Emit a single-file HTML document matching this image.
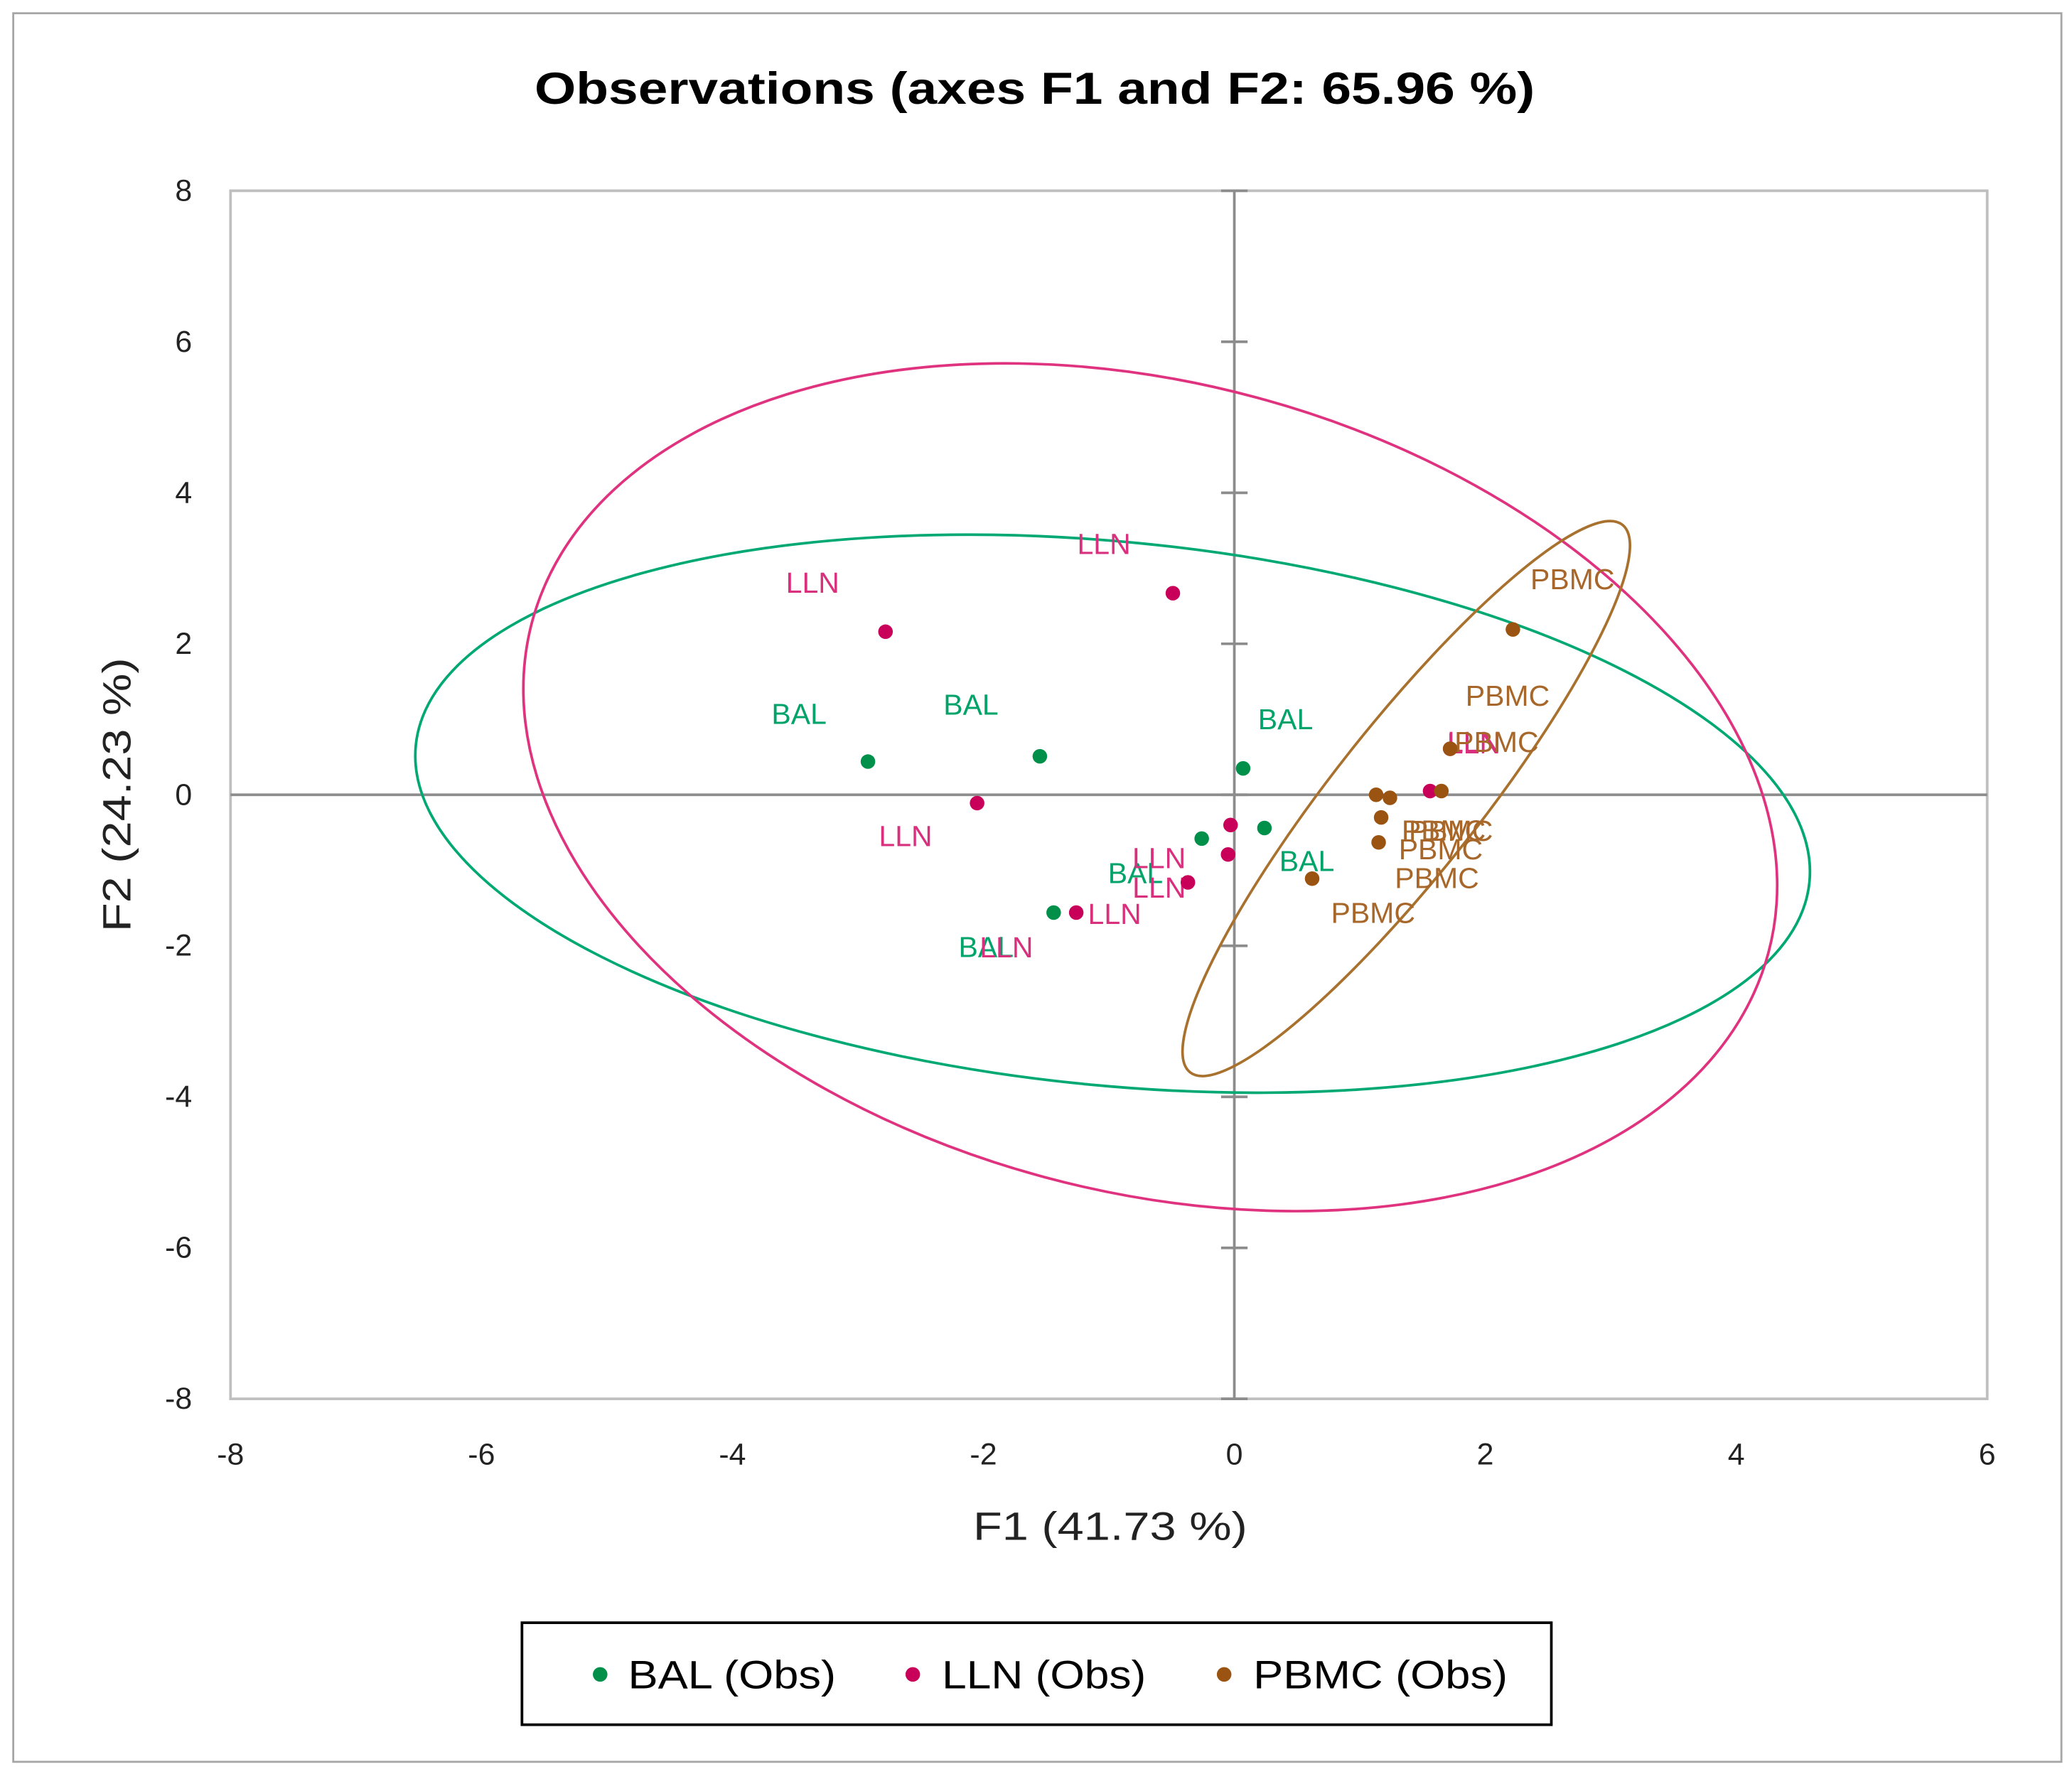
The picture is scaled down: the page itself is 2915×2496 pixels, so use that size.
<!DOCTYPE html>
<html><head><meta charset="utf-8"><style>
html,body{margin:0;padding:0;background:#fff;}
svg{display:block;font-family:"Liberation Sans",Arial,sans-serif;}
</style></head><body>
<svg id="chart" width="2915" height="2496" viewBox="0 0 1564 1339.2" xmlns="http://www.w3.org/2000/svg">
<rect x="10" y="10" width="1546" height="1320" fill="#fff" stroke="#a6a6a6" stroke-width="1.5"/>
<text x="781" y="67" text-anchor="middle" dominant-baseline="central" font-size="34" font-weight="bold" textLength="755" lengthAdjust="spacingAndGlyphs">Observations (axes F1 and F2: 65.96 %)</text>
<rect x="174" y="144" width="1326" height="912" fill="none" stroke="#bfbfbf" stroke-width="2"/>
<g id="axes"></g>
<g id="ellipses"></g>
<g id="marks"></g>
<text x="838" y="1152" text-anchor="middle" dominant-baseline="central" font-size="30" fill="#222" textLength="207" lengthAdjust="spacingAndGlyphs">F1 (41.73 %)</text>
<text transform="translate(88,600) rotate(-90)" text-anchor="middle" dominant-baseline="central" font-size="30" fill="#222" textLength="207" lengthAdjust="spacingAndGlyphs">F2 (24.23 %)</text>
<g>
<rect x="394" y="1225" width="777" height="77" fill="#fff" stroke="#000" stroke-width="2"/>
<g><circle cx="453" cy="1264" r="5.5" fill="#00904a"/><text x="474" y="1264" dominant-baseline="central" font-size="30" textLength="157" lengthAdjust="spacingAndGlyphs">BAL (Obs)</text></g>
<g><circle cx="689" cy="1264" r="5.5" fill="#c8005a"/><text x="711" y="1264" dominant-baseline="central" font-size="30" textLength="154" lengthAdjust="spacingAndGlyphs">LLN (Obs)</text></g>
<g><circle cx="924" cy="1264" r="5.5" fill="#9a5310"/><text x="946" y="1264" dominant-baseline="central" font-size="30" textLength="192" lengthAdjust="spacingAndGlyphs">PBMC (Obs)</text></g>
</g>
</svg>
<script>
const xTicks = [-8,-6,-4,-2,0,2,4,6];
const yTicks = [-8,-6,-4,-2,0,2,4,6,8];
const balX = [-2.92,-1.55,0.07,0.24,-0.26,-1.44];
const balY = [0.44,0.51,0.35,-0.44,-0.58,-1.56];
const llnX = [-2.78,-0.49,-2.05,-0.03,-0.05,-0.37,-1.26,1.56,1.72];
const llnY = [2.16,2.67,-0.11,-0.40,-0.79,-1.16,-1.56,0.05,0.61];
const pbmcX = [2.22,1.72,1.65,1.13,1.24,1.17,1.15,0.62];
const pbmcY = [2.19,0.61,0.05,0.00,-0.04,-0.30,-0.63,-1.11];
// confidence ellipses: center (data), semi-axes (data units along rotated axes), angle deg
const ellCx = [-0.97,-0.67,1.37];
const ellCy = [-0.25,0.10,-0.05];
const ellRx = [5.58,5.10,2.78];
const ellRy = [3.60,5.35,0.97];
const ellAngle = [5.6,15.0,-51.7];

const X0=174,X1=1500,Y0=1056,Y1=144;
function sx(v){return X0+(v+8)/14*(X1-X0);}
function sy(v){return Y0-(v+8)/16*(Y0-Y1);}
const NS='http://www.w3.org/2000/svg';
function mk(tag,attrs,parent){const e=document.createElementNS(NS,tag);for(const k in attrs)e.setAttribute(k,attrs[k]);parent.appendChild(e);return e;}
const axes=document.getElementById('axes');
let l=mk('line',{x1:sx(0),x2:sx(0),y1:Y1,y2:Y0,stroke:'#8c8c8c','stroke-width':2},axes);


l=mk('line',{x1:X0,x2:X1,y1:sy(0),y2:sy(0),stroke:'#8c8c8c','stroke-width':2},axes);


yTicks.forEach(t=>{
  const tm=mk('line',{x1:sx(0)-10,x2:sx(0)+10,y1:sy(t),y2:sy(t),stroke:'#8c8c8c','stroke-width':2},axes);
  
  
  const tx=mk('text',{x:145,y:sy(t),'text-anchor':'end','dominant-baseline':'central','font-size':23,fill:'#222'},axes);
  tx.textContent=t;
  
  
});
xTicks.forEach(t=>{
  const tx=mk('text',{x:sx(t),y:1098,'text-anchor':'middle','dominant-baseline':'central','font-size':23,fill:'#222'},axes);
  tx.textContent=t;
  
  
});
const ellColors=['#00a873','#e0337f','#a8712e'];
const ellNames=['bal-ellipse','lln-ellipse','pbmc-ellipse'];
const eg=document.getElementById('ellipses');
const ux=(X1-X0)/14, uy=(Y0-Y1)/16;
ellCx.forEach((c,i)=>{
  const e=mk('ellipse',{cx:sx(c),cy:sy(ellCy[i]),rx:ellRx[i]*ux,ry:ellRy[i]*uy,fill:'none',stroke:ellColors[i],'stroke-width':2,transform:`rotate(${ellAngle[i]} ${sx(c)} ${sy(ellCy[i])})`},eg);
  
  
});
const marks=document.getElementById('marks');
const balOff=[[-52,-36],[-52,-39],[32,-37],[32,25],[-50,26],[-51,26]];
const llnOff=[[-55,-37],[-52,-37],[-54,25],[-54,25],[-52,25],[-137,49],[29,1],[33,-36],[18,-5]];
const pbmcOff=[[45,-38],[35,-5],[50,-72],[51,27],[46,25],[45,24],[44,27],[46,26]];
function series(xs,ys,off,color,labelColor,name,lab){
  xs.forEach((v,i)=>{
    const px=sx(v),py=sy(ys[i]);
    const t=mk('text',{x:px+off[i][0],y:py+off[i][1],'text-anchor':'middle','dominant-baseline':'central','font-size':22,fill:labelColor},marks);
    t.textContent=lab;
    
    
  });
  xs.forEach((v,i)=>{
    const c=mk('circle',{cx:sx(v),cy:sy(ys[i]),r:5.5,fill:color},marks);
    
    
  });
}
series(balX,balY,balOff,'#00904a','#00a36a','bal','BAL');
series(llnX,llnY,llnOff,'#c8005a','#d9307e','lln','LLN');
series(pbmcX,pbmcY,pbmcOff,'#9a5310','#a8672a','pbmc','PBMC');
</script>
</body></html>
